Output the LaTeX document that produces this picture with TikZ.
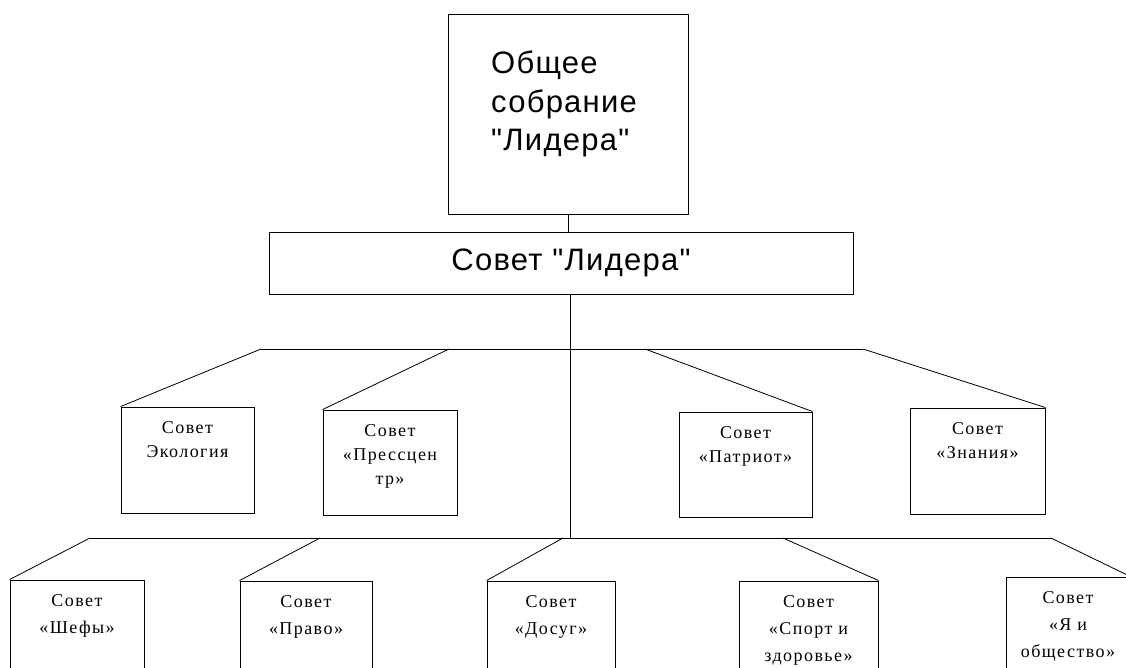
\documentclass[tikz,border=0pt]{standalone}
\usepackage{fontspec}
\newfontfamily\headfont[LetterSpace=4]{Liberation Sans}
\newfontfamily\cellfont[LetterSpace=8]{Liberation Serif}

\begin{document}
\begin{tikzpicture}[x=1pt, y=-1pt,
  frame/.style={draw, line width=0.9pt, inner sep=0pt, rectangle},
  celltext/.style={anchor=north, inner sep=0pt, align=center, font=\cellfont\fontsize{18}{24}\selectfont},
  lowtext/.style={celltext, font=\cellfont\fontsize{18}{27}\selectfont},
  link/.style={line width=0.8pt}]

\clip (0,0) rectangle (1126,668);

\node[frame, minimum width=240pt, minimum height=200pt] at (568,114) (assembly) {};
\node[anchor=north west, inner sep=0pt, align=left, font=\headfont\fontsize{31}{38.5}\selectfont] at (491,51) (assemblytext) {Общее\\собрание\\"Лидера"};
\node[frame, minimum width=584pt, minimum height=62pt] at (561,263) (council) {};
\node[font=\headfont\fontsize{31}{37}\selectfont, inner sep=0pt] at (571,263) (counciltext) {Совет "Лидера"};

\draw[link] (assembly.south) -- (assembly.south |- council.north);

% forks on the two bars
\coordinate (upjoint) at (570,349);
\coordinate (lowjoint) at (570,538);
\coordinate (ecologyfork) at (261,349);
\coordinate (pressfork) at (449,349);
\coordinate (patriotfork) at (645,349);
\coordinate (knowledgefork) at (863,349);
\coordinate (chefsfork) at (90,538);
\coordinate (lawfork) at (320,538);
\coordinate (leisurefork) at (563,538);
\coordinate (sportfork) at (783,538);
\coordinate (societyfork) at (1051,538);

\draw[link] (council.south -| lowjoint) -- (lowjoint);
\draw[link] (ecologyfork) -- (knowledgefork);
\draw[link] (chefsfork) -- (societyfork);

% upper councils
\node[frame, minimum width=133pt, minimum height=106pt] at (187.5,460) (ecology) {};
\node[frame, minimum width=134pt, minimum height=105pt] at (390,462.5) (press) {};
\node[frame, minimum width=133pt, minimum height=105pt] at (745.5,464.5) (patriot) {};
\node[frame, minimum width=135pt, minimum height=106pt] at (977.5,461) (knowledge) {};

\node[celltext] at ([yshift=-15pt]ecology.north) (ecologytext) {Совет\\Экология};
\node[celltext] at ([yshift=-15pt]press.north) (presstext) {Совет\\«Прессцен\\тр»};
\node[celltext] at ([yshift=-15pt]patriot.north) (patriottext) {Совет\\«Патриот»};
\node[celltext] at ([yshift=-15pt]knowledge.north) (knowledgetext) {Совет\\«Знания»};

\draw[link] (ecologyfork) -- (ecology.north west);
\draw[link] (pressfork) -- (press.north west);
\draw[link] (patriotfork) -- (patriot.north east);
\draw[link] (knowledgefork) -- (knowledge.north east);

% lower councils
\node[frame, minimum width=134pt, minimum height=110pt] at (77,635) (chefs) {};
\node[frame, minimum width=132pt, minimum height=110pt] at (306,636) (law) {};
\node[frame, minimum width=128pt, minimum height=110pt] at (551,636) (leisure) {};
\node[frame, minimum width=139pt, minimum height=110pt] at (808.5,636) (sport) {};
\node[frame, minimum width=124pt, minimum height=110pt] at (1068,632) (society) {};

\node[lowtext] at ([yshift=-15pt]chefs.north) (chefstext) {Совет\\«Шефы»};
\node[lowtext] at ([yshift=-15pt]law.north) (lawtext) {Совет\\«Право»};
\node[lowtext] at ([yshift=-15pt]leisure.north) (leisuretext) {Совет\\«Досуг»};
\node[lowtext] at ([yshift=-15pt]sport.north) (sporttext) {Совет\\«Спорт и\\здоровье»};
\node[lowtext] at ([yshift=-15pt]society.north) (societytext) {Совет\\«Я и\\общество»};

\draw[link] (chefsfork) -- (chefs.north west);
\draw[link] (lawfork) -- (law.north west);
\draw[link] (leisurefork) -- (leisure.north west);
\draw[link] (sportfork) -- (sport.north east);
\draw[link] (societyfork) -- (society.north east);
\end{tikzpicture}
\end{document}
